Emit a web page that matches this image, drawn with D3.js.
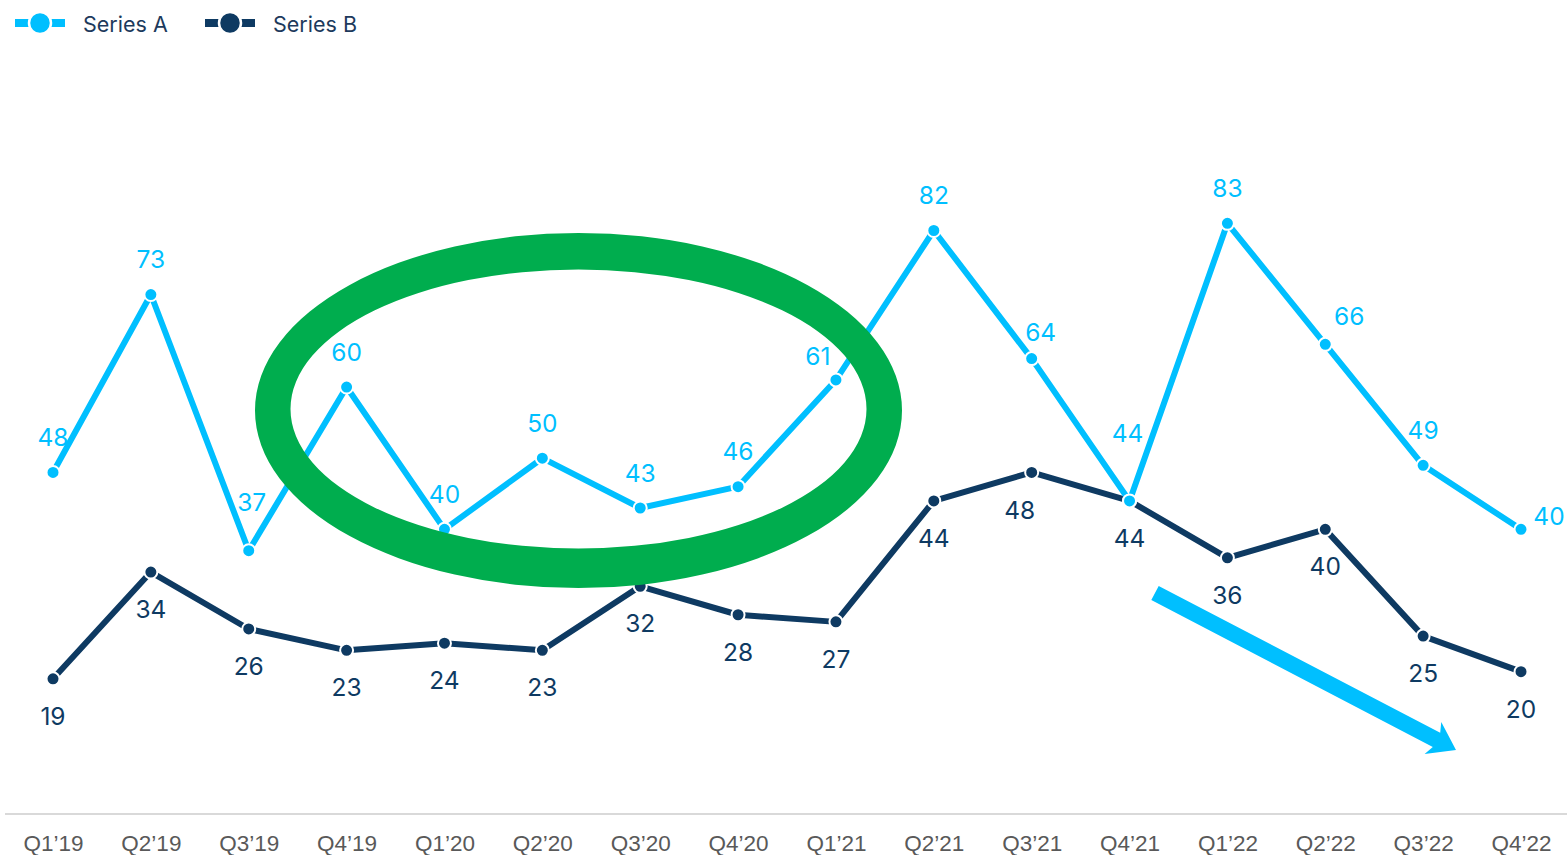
<!DOCTYPE html>
<html><head><meta charset="utf-8">
<script src="https://cdn.jsdelivr.net/npm/d3@7"></script>
<style>body{margin:0;background:#fff;}svg{display:block;font-family:Inter,"Liberation Sans",Arial,sans-serif;}</style>
</head><body>
<svg id="c" width="1567" height="855"></svg>
<script>
const categories = ["Q1’19","Q2’19","Q3’19","Q4’19","Q1’20","Q2’20","Q3’20","Q4’20","Q1’21","Q2’21","Q3’21","Q4’21","Q1’22","Q2’22","Q3’22","Q4’22"];
const seriesA = [48,73,37,60,40,50,43,46,61,82,64,44,83,66,49,40];
const seriesB = [19,34,26,23,24,23,32,28,27,44,48,44,36,40,25,20];
const seriesNames = ["Series A","Series B"];

const colA = "#00BFFF", colB = "#0E3A62", green = "#00AD4E";
const svg = d3.select("#c");
const x = d3.scalePoint().domain(categories).range([53,1521]);
const y = d3.scaleLinear().domain([0,100]).range([814,102.4]);

// axis
const axis = d3.axisBottom(x).tickSize(0).tickPadding(0);
const gx = svg.append("g").attr("transform","translate(0,814)").call(axis);
gx.select(".domain").remove();
svg.append("line").attr("x1",5).attr("x2",1567).attr("y1",814).attr("y2",814).attr("stroke","#d9d9d9").attr("stroke-width",2);
gx.selectAll("text").attr("y",37).attr("dy",0).attr("font-size",22.5).attr("fill","#595959").attr("font-family","Liberation Sans, Arial, sans-serif");

const line = d3.line().x((d,i)=>x(categories[i])).y(d=>y(d));

function drawSeries(vals,col){
  svg.append("path").datum(vals).attr("d",line).attr("fill","none").attr("stroke",col).attr("stroke-width",6).attr("stroke-linejoin","round");
  svg.append("g").selectAll("circle").data(vals).join("circle")
    .attr("cx",(d,i)=>x(categories[i])).attr("cy",d=>y(d)).attr("r",6.5)
    .attr("fill",col).attr("stroke","#fff").attr("stroke-width",2);
}
drawSeries(seriesB,colB);
drawSeries(seriesA,colA);

// label offsets (placement only)
const offA = [[0,-35],[0,-35],[3,-48],[0,-35],[0,-35],[0,-35],[0,-35],[0,-35],[-18,-23],[0,-35],[9,-26],[-2,-67],[0,-35],[24,-28],[0,-35],[28,-13]];
const offB = seriesB.map((d,i)=> i===10 ? [-12,37.5] : [0,37.5]);
svg.append("g").selectAll("text").data(seriesA).join("text")
  .attr("x",(d,i)=>x(categories[i])+offA[i][0]).attr("y",(d,i)=>y(d)+offA[i][1])
  .attr("dy","0.35em").attr("text-anchor","middle").attr("font-size",24.5).attr("fill",colA).text(d=>d);
svg.append("g").selectAll("text").data(seriesB).join("text")
  .attr("x",(d,i)=>x(categories[i])+offB[i][0]).attr("y",(d,i)=>y(d)+offB[i][1])
  .attr("dy","0.35em").attr("text-anchor","middle").attr("font-size",24.5).attr("fill",colB).text(d=>d);

// green ellipse ring
function ell(cx,cy,rx,ry){return `M${cx-rx},${cy}a${rx},${ry} 0 1,0 ${2*rx},0a${rx},${ry} 0 1,0 ${-2*rx},0Z`;}
svg.append("path").attr("d",ell(578.5,410.5,323.5,177.5)+ell(578.5,409,288,139.5))
  .attr("fill",green).attr("fill-rule","evenodd");

// arrow
const ax0=1155, ay0=593, ax1=1456, ay1=750;
const ang = Math.atan2(ay1-ay0, ax1-ax0)*180/Math.PI;
const L = Math.hypot(ax1-ax0, ay1-ay0);
svg.append("path").attr("transform",`translate(${ax0},${ay0}) rotate(${ang})`)
  .attr("d",`M0,-8L${L-22},-8L${L-26},-18L${L},0L${L-26},18L${L-22},8L0,8Z`).attr("fill",colA);

// legend
const leg = svg.append("g");
[[15,colA,seriesNames[0]],[205,colB,seriesNames[1]]].forEach(([lx,c,t])=>{
  leg.append("line").attr("x1",lx).attr("x2",lx+50).attr("y1",23).attr("y2",23).attr("stroke",c).attr("stroke-width",8);
  leg.append("circle").attr("cx",lx+25).attr("cy",23).attr("r",11).attr("fill",c).attr("stroke","#fff").attr("stroke-width",2.5);
  leg.append("text").attr("x",lx+68).attr("y",24).attr("dy","0.35em").attr("font-size",21.5).attr("fill","#1d3a5c").text(t);
});
</script>
</body></html>
